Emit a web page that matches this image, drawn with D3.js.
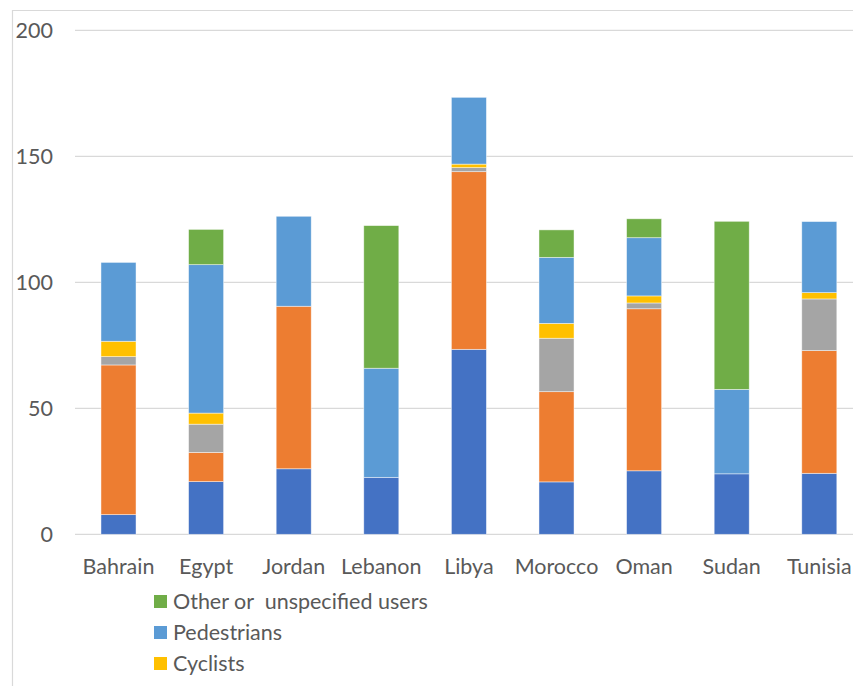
<!DOCTYPE html>
<html>
<head>
<meta charset="utf-8">
<script src="https://cdn.jsdelivr.net/npm/d3@7"></script>
<style>
  html, body { margin: 0; padding: 0; background: #fff; overflow: hidden; }
  svg { display: block; }
  text { font-family: Lato, "Open Sans", sans-serif; fill: #595959; }
</style>
</head>
<body>
<svg id="chart" width="853" height="686"></svg>
<script>
// Road traffic deaths per 100 000 population, by road-user type
const countries = ["Bahrain", "Egypt", "Jordan", "Lebanon", "Libya", "Morocco", "Oman", "Sudan", "Tunisia"];

const drivers     = [7.8, 20.9, 26.0, 22.6, 73.4, 20.8, 25.2, 24.0, 24.2];
const passengers  = [59.4, 11.6, 64.5, 0, 70.5, 35.8, 64.3, 0, 48.7];
const motorcycles = [3.3, 11.2, 0, 0, 1.6, 21.2, 2.3, 0, 20.5];
const cyclists    = [6.1, 4.4, 0, 0, 1.4, 5.9, 2.8, 0, 2.5];
const pedestrians = [31.3, 58.9, 35.7, 43.3, 26.5, 26.2, 23.1, 33.5, 28.2];
const other       = [0, 14.0, 0, 56.6, 0, 10.9, 7.5, 66.7, 0];

const seriesNames = [
  "Drivers of 4-wheeled vehicles",
  "Passengers of 4-wheeled vehicles",
  "Riders of motorized 2- or 3-wheelers",
  "Cyclists",
  "Pedestrians",
  "Other or  unspecified users"
];
const seriesValues = [drivers, passengers, motorcycles, cyclists, pedestrians, other];
const seriesColors = ["#4472C4", "#ED7D31", "#A5A5A5", "#FFC000", "#5B9BD5", "#70AD47"];
const yTicks = [0, 50, 100, 150, 200];

// legend entries, top series first
const legendKeys = ["Other or  unspecified users", "Pedestrians", "Cyclists"];

const rows = countries.map((c, i) => {
  const r = { country: c };
  seriesNames.forEach((s, k) => { r[s] = seriesValues[k][i]; });
  return r;
});

const svg = d3.select("#chart");
const labelSize = 21.5;

// chart frame
svg.append("path")
  .attr("d", "M12.5,700 V10.5 H900")
  .attr("fill", "none")
  .attr("stroke", "#d9d9d9")
  .attr("stroke-width", 1.2);

const x = d3.scaleBand()
  .domain(countries)
  .range([74.7, 863.1])
  .paddingInner(0.6)
  .paddingOuter(0.3);

const y = d3.scaleLinear().domain([0, 200]).range([534.3, 30.3]);

// gridlines
svg.append("g")
  .selectAll("line")
  .data(yTicks)
  .join("line")
  .attr("x1", 75)
  .attr("x2", 860)
  .attr("y1", d => y(d))
  .attr("y2", d => y(d))
  .attr("stroke", "#d9d9d9")
  .attr("stroke-width", 1.3);

// y-axis labels
const yAxis = svg.append("g")
  .attr("transform", "translate(53,0)")
  .call(d3.axisLeft(y).tickValues(yTicks).tickSize(0).tickPadding(0));
yAxis.select(".domain").remove();
yAxis.selectAll("text")
  .attr("font-size", labelSize)
  .attr("font-family", "Lato, sans-serif")
  .attr("fill", "#595959");

// stacked bars
const stack = d3.stack().keys(seriesNames);
const layers = stack(rows);

svg.append("g")
  .selectAll("g")
  .data(layers)
  .join("g")
  .attr("fill", (d, i) => seriesColors[i])
  .selectAll("rect")
  .data(d => d.filter(p => p[1] - p[0] > 0))
  .join("rect")
  .attr("x", d => x(d.data.country))
  .attr("width", x.bandwidth())
  .attr("y", d => y(d[1]))
  .attr("height", d => y(d[0]) - y(d[1]))
  .attr("stroke", "#ffffff")
  .attr("stroke-opacity", 0.6)
  .attr("stroke-width", 0.75);

// x-axis labels
const xAxis = svg.append("g")
  .attr("transform", `translate(0,${y(0)})`)
  .call(d3.axisBottom(x).tickSize(0).tickPadding(24));
xAxis.select(".domain").remove();
xAxis.selectAll("text")
  .attr("font-size", labelSize)
  .attr("font-family", "Lato, sans-serif")
  .attr("fill", "#595959");

// legend
const legend = svg.append("g");
const item = legend.selectAll("g")
  .data(legendKeys)
  .join("g")
  .attr("transform", (d, j) => `translate(154,${601.5 + j * 31})`);
item.append("rect")
  .attr("x", 0)
  .attr("y", -6.5)
  .attr("width", 13)
  .attr("height", 13)
  .attr("fill", d => seriesColors[seriesNames.indexOf(d)]);
item.append("text")
  .attr("x", 19)
  .attr("dy", "0.35em")
  .attr("font-size", labelSize)
  .style("white-space", "pre")
  .text(d => d);
</script>
</body>
</html>
